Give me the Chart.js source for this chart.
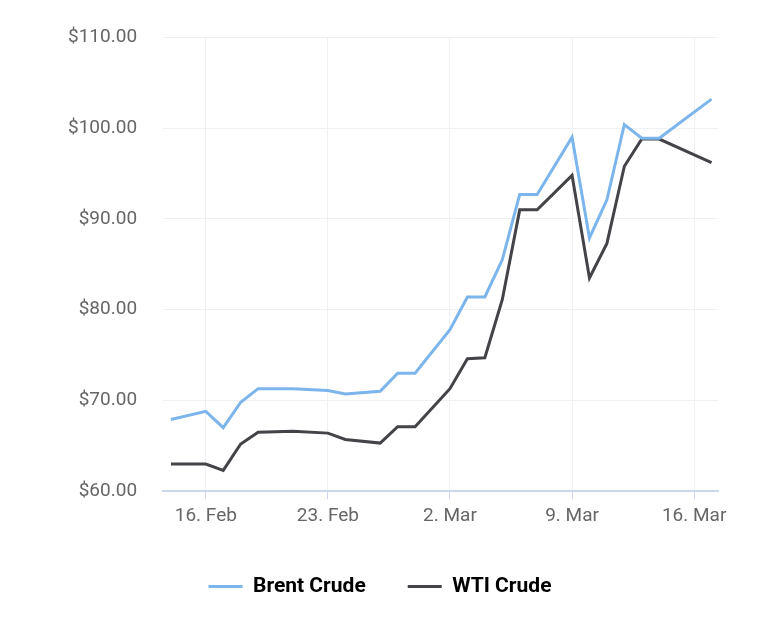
<!DOCTYPE html>
<html><head><meta charset="utf-8">
<script src="https://cdn.jsdelivr.net/npm/chart.js@4"></script>
<style>html,body{margin:0;padding:0;background:#fff}#w{width:768px;height:627px}</style>
</head><body><div id="w"><canvas id="c"></canvas></div>
<script>
// day offsets since 14 Feb
const days = [0,2,3,4,5,7,9,10,12,13,14,16,17,18,19,20,21,23,24,25,26,27,28,31];
const brent = [67.9,68.8,67.0,69.8,71.3,71.3,71.1,70.7,71.0,73.0,73.0,77.8,81.4,81.4,85.5,92.7,92.7,99.0,87.9,92.1,100.4,98.9,98.9,103.2];
const wti = [63.0,63.0,62.3,65.2,66.5,66.6,66.4,65.7,65.3,67.1,67.1,71.3,74.6,74.7,81.1,91.0,91.0,94.8,83.5,87.3,95.8,98.8,98.8,96.2];
const tickDays = [2,9,16,23,30];
const tickLabels = ['16. Feb','23. Feb','2. Mar','9. Mar','16. Mar'];
const yTicks = [60,70,80,90,100,110];
const pts = a => a.map((v,i)=>({x:days[i],y:v}));
Chart.defaults.font.family = 'Roboto';
new Chart(document.getElementById('c'),{
 type:'line',
 data:{datasets:[
  {label:'Brent Crude',data:pts(brent),borderColor:'#7cb5ec',backgroundColor:'#7cb5ec',borderWidth:3,pointRadius:0,tension:0},
  {label:'WTI Crude',data:pts(wti),borderColor:'#434348',backgroundColor:'#434348',borderWidth:3,pointRadius:0,tension:0}
 ]},
 options:{responsive:true,maintainAspectRatio:false,animation:false,
  layout:{padding:{left:42,right:50,top:26,bottom:20}},
  plugins:{legend:{position:'bottom',labels:{font:{size:21,weight:'bold'},color:'#333',boxWidth:34,boxHeight:3,padding:42,
     generateLabels:ch=>ch.data.datasets.map((d,i)=>({text:d.label,fillStyle:d.borderColor,strokeStyle:d.borderColor,lineWidth:0,datasetIndex:i}))}},
   tooltip:{enabled:false}},
  scales:{
   x:{type:'linear',min:-0.45,max:31.37,
    afterBuildTicks:s=>{s.ticks=tickDays.map(v=>({value:v}));},
    ticks:{callback:v=>tickLabels[tickDays.indexOf(v)],color:'#666',font:{size:19},padding:6,maxRotation:0,autoSkip:false},
    grid:{color:'#eef0f4',tickLength:8,tickColor:'#ccd6eb'},border:{color:'#ccd6eb',width:2}},
   y:{min:60,max:110,
    afterBuildTicks:s=>{s.ticks=yTicks.map(v=>({value:v}));},
    ticks:{callback:v=>'$'+v.toFixed(2),color:'#666',font:{size:19},padding:26},
    grid:{color:'#eef0f4',drawTicks:false},border:{display:false}}
  }}
});
</script></body></html>
